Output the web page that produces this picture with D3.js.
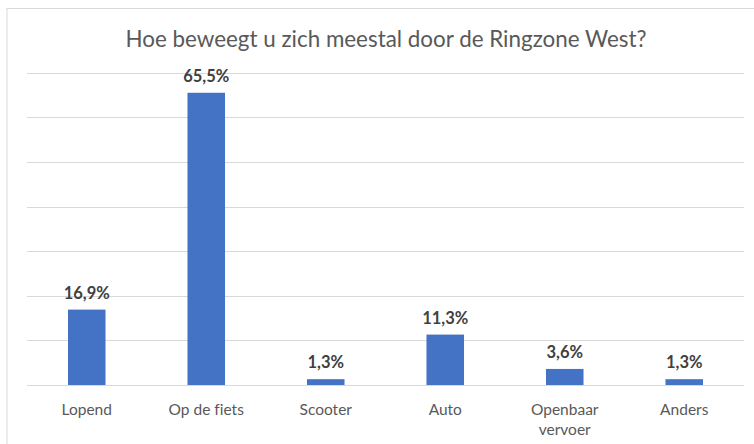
<!DOCTYPE html>
<html>
<head>
<meta charset="utf-8">
<script src="https://cdn.jsdelivr.net/npm/d3@7"></script>
<style>
  html, body { margin: 0; padding: 0; background: #fff; }
  svg { display: block; }
  text { font-variant-ligatures: none; }
</style>
</head>
<body>
<svg id="chart" width="754" height="444"></svg>
<script>
const title = "Hoe beweegt u zich meestal door de Ringzone West?";
const categories = ["Lopend", "Op de fiets", "Scooter", "Auto", "Openbaar vervoer", "Anders"];
const values = [16.9, 65.5, 1.3, 11.3, 3.6, 1.3];
const yTicks = [0, 10, 20, 30, 40, 50, 60, 70];

const svg = d3.select("#chart");
const W = 754, H = 444;
const margin = { left: 27, right: 10, top: 72.7, bottom: 59 };
const plotW = 744 - margin.left;

// chart area border
svg.append("rect")
  .attr("x", 7).attr("y", 8.5)
  .attr("width", W + 10).attr("height", H + 10)
  .attr("fill", "#fff").attr("stroke", "#d9d9d9").attr("stroke-width", 1);

const x = d3.scaleBand()
  .domain(categories)
  .range([margin.left, margin.left + plotW])
  .paddingInner(0.686)
  .paddingOuter(0.343);

const y = d3.scaleLinear().domain([0, 70]).range([385, 72.7]);

// gridlines
svg.append("g").selectAll("line")
  .data(yTicks)
  .join("line")
  .attr("x1", margin.left).attr("x2", margin.left + plotW)
  .attr("y1", d => Math.round(y(d)) + 0.5).attr("y2", d => Math.round(y(d)) + 0.5)
  .attr("stroke", "#d9d9d9").attr("stroke-width", 1);

// bars
svg.append("g").selectAll("rect")
  .data(values)
  .join("rect")
  .attr("x", (d, i) => x(categories[i]))
  .attr("width", x.bandwidth())
  .attr("y", d => y(d))
  .attr("height", d => y(0) - y(d))
  .attr("fill", "#4472c4");

// value labels
svg.append("g").selectAll("text")
  .data(values)
  .join("text")
  .attr("x", (d, i) => x(categories[i]) + x.bandwidth() / 2)
  .attr("y", d => y(d) - 11)
  .attr("text-anchor", "middle")
  .attr("font-family", "Lato, 'Open Sans', sans-serif")
  .attr("font-weight", "bold")
  .attr("font-size", 16.5)
  .attr("fill", "#404040")
  .text(d => d.toFixed(1).replace(".", ",") + "%");

// category labels (wrapped)
const wrapMap = { "Openbaar vervoer": ["Openbaar", "vervoer"] };
const cat = svg.append("g").selectAll("text")
  .data(categories)
  .join("text")
  .attr("text-anchor", "middle")
  .attr("font-family", "Lato, 'Open Sans', sans-serif")
  .attr("font-size", 15.5)
  .attr("fill", "#595959");
cat.each(function(c) {
  const lines = wrapMap[c] || [c];
  const t = d3.select(this);
  lines.forEach((ln, k) => {
    t.append("tspan")
      .attr("x", x(c) + x.bandwidth() / 2)
      .attr("y", 415 + k * 20)
      .text(ln);
  });
});

// title
svg.append("text")
  .attr("x", 386).attr("y", 47)
  .attr("text-anchor", "middle")
  .attr("font-family", "Lato, 'Open Sans', sans-serif")
  .attr("font-size", 22.4)
  .attr("fill", "#595959")
  .text(title);
</script>
</body>
</html>
